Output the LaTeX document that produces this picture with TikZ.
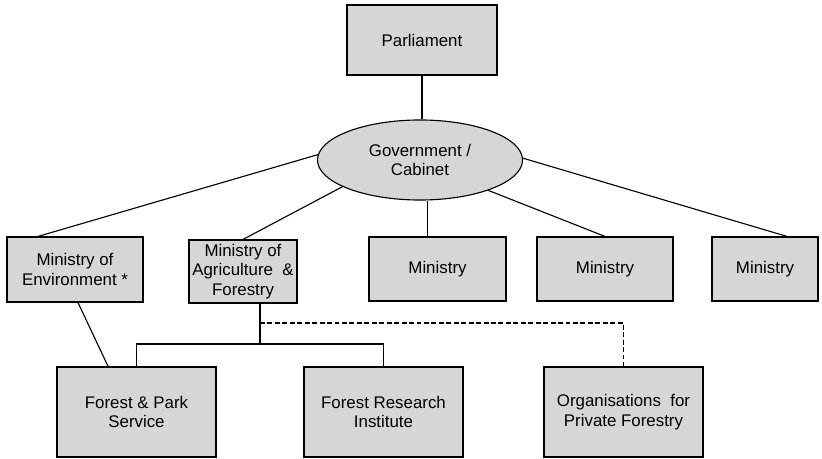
\documentclass[tikz,border=0pt]{standalone}
\usepackage{fontspec}
\setmainfont{Liberation Sans}
\usetikzlibrary{shapes.geometric}

\begin{document}
\begin{tikzpicture}[
  x=0.025cm, y=-0.025cm, line width=0.8pt,  box/.style={rectangle,draw,fill=black!16,inner sep=2pt,align=center,font=\fontsize{12}{14}\selectfont},  oval/.style={ellipse,draw,fill=black!16,inner sep=0pt,align=center,font=\fontsize{12}{14}\selectfont,minimum width=5.125cm,minimum height=2cm},  link/.style={draw,line width=0.8pt},  dlink/.style={draw,line width=1.1pt,dash pattern=on 3.5pt off 1.8pt}
]
  \useasboundingbox (0,0) rectangle (822,459);
  \node[box,minimum width=3.75cm,minimum height=1.75cm] (parl) at (422,40) {Parliament};
  \node[oval] (gov) at (420,160) {Government /\\Cabinet};
  \node[box,minimum width=3.4cm,minimum height=1.625cm] (env) at (75,269.5) {Ministry of\\Environment *};
  \node[box,minimum width=2.7cm,minimum height=1.575cm] (agri) at (243,271.5) {Ministry of\\Agriculture \ \&\\Forestry};
  \node[box,minimum width=3.425cm,minimum height=1.6cm] (min1) at (437.5,269) {Ministry};
  \node[box,minimum width=3.4cm,minimum height=1.6cm] (min2) at (605,269) {Ministry};
  \node[box,minimum width=2.65cm,minimum height=1.6cm] (min3) at (765,269) {Ministry};
  \node[box,minimum width=3.975cm,minimum height=2.25cm] (fps) at (136.5,412) {Forest \& Park\\Service};
  \node[box,minimum width=3.975cm,minimum height=2.25cm] (fri) at (383.5,412) {Forest Research\\Institute};
  \node[box,minimum width=3.975cm,minimum height=2.25cm] (opf) at (623.5,412) {Organisations \ for\\Private Forestry};
  \coordinate (split) at (260,344);
  \coordinate (dash) at (260,323);
  \draw[link] (parl.south) -- (parl.south |- gov.north);
  \draw[link] (gov.177) -- ([xshift=-0.925cm]env.north);
  \draw[link] (gov.199) -- (agri.north);
  \draw[link] ([xshift=-0.26cm]min1.north) -- ([xshift=-0.26cm]min1.north |- gov.south);
  \draw[link] (gov.336) -- (min2.north);
  \draw[link] (gov.1) -- ([xshift=0.55cm]min3.north);
  \draw[link] ([xshift=0.075cm]env.south) -- ([xshift=-0.71cm]fps.north);
  \draw[link] (agri.south -| split) -- (split);
  \draw[link] (fps.north) |- (split) -| (fri.north);
  \draw[dlink] (dash) -| (opf.north);
\end{tikzpicture}
\end{document}
